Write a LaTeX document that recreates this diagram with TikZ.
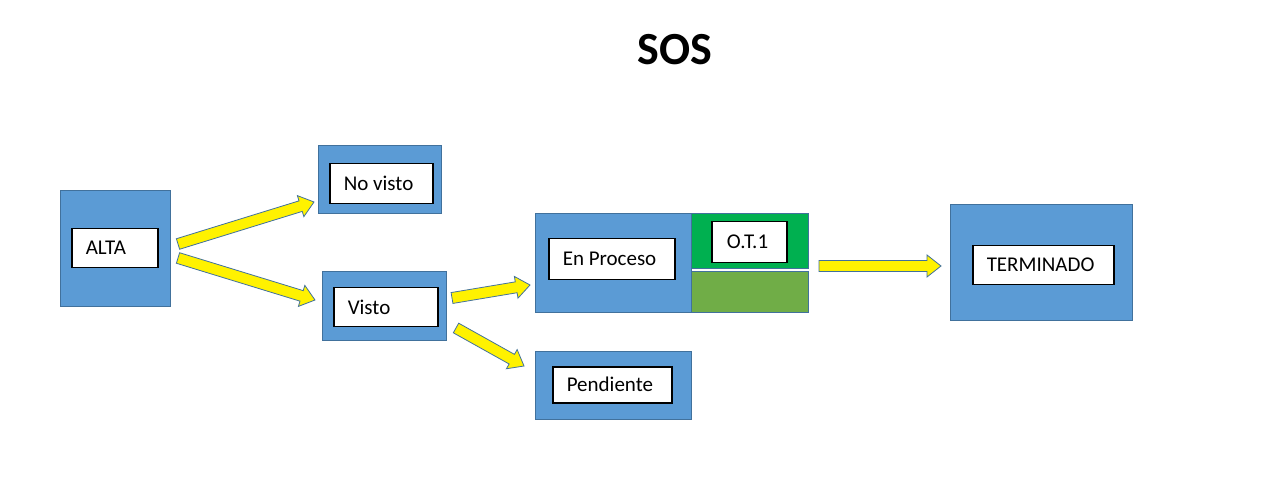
\documentclass[tikz,border=0pt]{standalone}
\usepackage{fontspec}
\setmainfont{Carlito}
\usetikzlibrary{calc}
\definecolor{boxblue}{HTML}{5B9BD5}
\definecolor{boxedge}{HTML}{41719C}
\definecolor{otgreen}{HTML}{00B050}
\definecolor{lgreen}{HTML}{70AD47}
\newcommand\lb[2]{\makebox[#1pt][l]{#2}}
% block arrow from #1 to #2, head base coordinate named #3
\newcommand\blockarrow[3]{%
 \coordinate (#3) at ($(#2)!14pt!(#1)$);
 \draw[barrow] ($(#1)!5.5pt!90:(#2)$) -- ($(#3)!5.5pt!-90:(#1)$) -- ($(#3)!11pt!-90:(#1)$) -- (#2)
   -- ($(#3)!11pt!90:(#1)$) -- ($(#3)!5.5pt!90:(#1)$) -- ($(#1)!5.5pt!-90:(#2)$) -- cycle;}
\tikzset{
 outerbox/.style={draw=boxedge, fill=boxblue, line width=1.2pt, anchor=north west, inner sep=0pt},
 innerbox/.style={draw=black, fill=white, line width=1.5pt, anchor=north west, inner xsep=14pt, inner ysep=0pt, font=\fontsize{21}{24}\selectfont},
 barrow/.style={draw=boxedge, fill=yellow, line width=0.8pt, line join=miter},
}
\begin{document}
\begin{tikzpicture}[x=1pt,y=-1pt]
\useasboundingbox[fill=white] (0,0) rectangle (1264,494);
\node[font=\fontsize{46}{50}\selectfont\bfseries] (title) at (675,50) {SOS};
% outer boxes
\node[outerbox, minimum width=110pt, minimum height=116pt] (alta) at (60,190) {};
\node[outerbox, minimum width=123pt, minimum height=68pt] (novisto) at (318,145) {};
\node[outerbox, minimum width=124pt, minimum height=69pt] (visto) at (322,271) {};
\node[outerbox, minimum width=156pt, minimum height=99pt] (proceso) at (535,213) {};
\node[outerbox, fill=otgreen, minimum width=117pt, minimum height=55pt] (ot) at (691,213) {};
\node[outerbox, fill=lgreen, minimum width=117pt, minimum height=41pt] (otlow) at (691,271) {};
\node[outerbox, minimum width=156pt, minimum height=68pt] (pend) at (535,351) {};
\node[outerbox, minimum width=182pt, minimum height=116pt] (term) at (950,204) {};
% inner boxes
\node[innerbox, minimum height=39pt] (altai) at (71,228) {\lb{58}{ALTA}};
\node[innerbox, minimum height=40pt] (novistoi) at (329,163) {\lb{75}{No visto}};
\node[innerbox, minimum height=39pt] (vistoi) at (333,287) {\lb{76}{Visto}};
\node[innerbox, minimum height=41pt] (procesoi) at (548,238) {\lb{98}{En Proceso}};
\node[innerbox, inner xsep=15pt, minimum height=41pt] (oti) at (711,221) {\lb{45}{O.T.1}};
\node[innerbox, minimum height=36pt] (pendi) at (552,366) {\lb{91}{Pendiente}};
\node[innerbox, minimum height=39pt] (termi) at (972,245) {\lb{113}{TERMINADO}};
% arrow end points
\coordinate (a1s) at (178,244); \coordinate (a1e) at (314,202);
\coordinate (a2s) at (178,258); \coordinate (a2e) at (315,300);
\coordinate (a3s) at (452,298); \coordinate (a3e) at (530,285);
\coordinate (a4s) at (456,328); \coordinate (a4e) at (524,366);
\coordinate (a5s) at (819,266); \coordinate (a5e) at (941,266);
\blockarrow{a1s}{a1e}{h1}
\blockarrow{a2s}{a2e}{h2}
\blockarrow{a3s}{a3e}{h3}
\blockarrow{a4s}{a4e}{h4}
\blockarrow{a5s}{a5e}{h5}
\end{tikzpicture}
\end{document}
